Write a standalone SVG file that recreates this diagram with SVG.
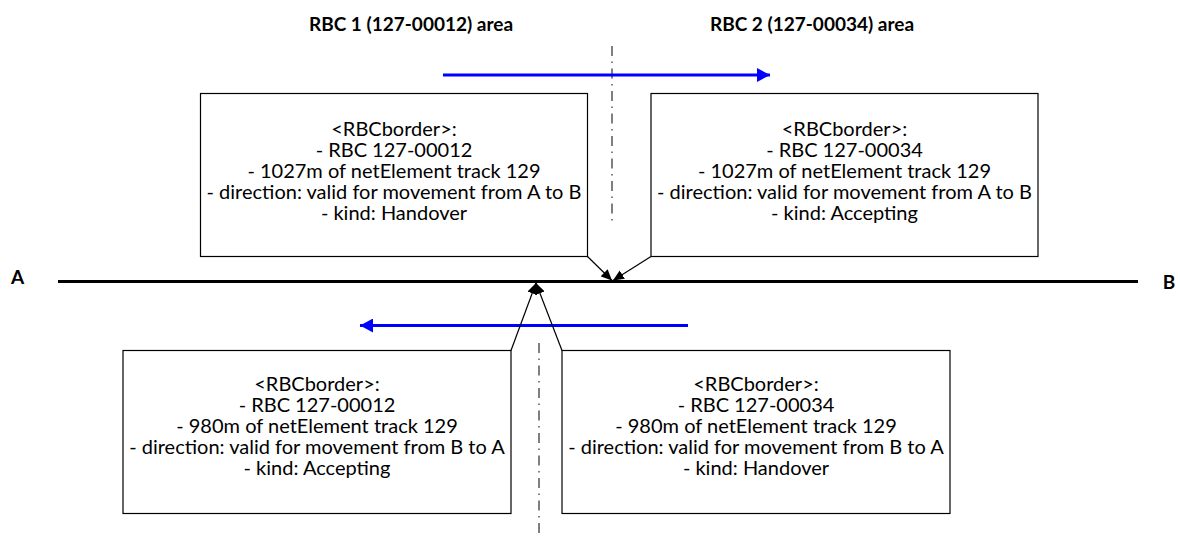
<svg xmlns="http://www.w3.org/2000/svg" width="1180" height="538" viewBox="0 0 1180 538">
<style>
.bg{fill:#fff}
.box{fill:#fff;stroke:#000;stroke-width:1.2}
.txt{font-family:Lato,"Liberation Sans",sans-serif;font-size:20px;fill:#000;text-anchor:middle}
.title{font-family:Lato,"Liberation Sans",sans-serif;font-size:19px;font-weight:bold;fill:#000;text-anchor:middle}
.track{stroke:#000;stroke-width:3.2;fill:none}
.sep{stroke:#555;stroke-width:1.5;fill:none;stroke-dasharray:10 5.5 1.5 5.5}
.con{stroke:#000;stroke-width:1.2;fill:none}
.blue{stroke:#0000ff;stroke-width:3;fill:none}
</style>
<defs>
<marker id="ah" markerUnits="userSpaceOnUse" markerWidth="12" markerHeight="10" refX="11" refY="5" orient="auto">
<path d="M0,0 L11,5 L0,10 z" fill="#000"/>
</marker>
<marker id="bh" markerUnits="userSpaceOnUse" markerWidth="14" markerHeight="14" refX="13" refY="7" orient="auto">
<path d="M0,0 L13,7 L0,14 z" fill="#0000ff"/>
</marker>
</defs>
<rect class="bg" x="0" y="0" width="1180" height="538"/>
<g id="labels">
<text class="title" x="411" y="31">RBC 1 (127-00012) area</text>
<text class="title" x="812" y="31">RBC 2 (127-00034) area</text>
<text class="title" x="17.5" y="284">A</text>
<text class="title" x="1169" y="289">B</text>
</g>
<g id="separators">
<line class="sep" x1="612" y1="46" x2="612" y2="222"/>
<line class="sep" x1="539" y1="343" x2="539" y2="538"/>
</g>
<g id="track">
<line class="track" x1="58" y1="281.5" x2="1138" y2="281.5"/>
</g>
<g id="directions">
<line class="blue" x1="443" y1="75" x2="770" y2="75" marker-end="url(#bh)"/>
<line class="blue" x1="688" y1="325.5" x2="360" y2="325.5" marker-end="url(#bh)"/>
</g>
<g id="node1">
<rect class="box" x="200.5" y="93.5" width="387" height="163"/>
<text class="txt" x="394" y="136">&lt;RBCborder&gt;:</text>
<text class="txt" x="394" y="157">- RBC 127-00012</text>
<text class="txt" x="394" y="178">- 1027m of netElement track 129</text>
<text class="txt" x="394" y="199">- direction: valid for movement from A to B</text>
<text class="txt" x="394" y="220">- kind: Handover</text>
</g>
<g id="node2">
<rect class="box" x="651" y="93.5" width="387" height="163"/>
<text class="txt" x="844.5" y="136">&lt;RBCborder&gt;:</text>
<text class="txt" x="844.5" y="157">- RBC 127-00034</text>
<text class="txt" x="844.5" y="178">- 1027m of netElement track 129</text>
<text class="txt" x="844.5" y="199">- direction: valid for movement from A to B</text>
<text class="txt" x="844.5" y="220">- kind: Accepting</text>
</g>
<g id="node3">
<rect class="box" x="123" y="350.5" width="388" height="163"/>
<text class="txt" x="317" y="391">&lt;RBCborder&gt;:</text>
<text class="txt" x="317" y="412">- RBC 127-00012</text>
<text class="txt" x="317" y="433">- 980m of netElement track 129</text>
<text class="txt" x="317" y="454">- direction: valid for movement from B to A</text>
<text class="txt" x="317" y="475">- kind: Accepting</text>
</g>
<g id="node4">
<rect class="box" x="562" y="350.5" width="388" height="163"/>
<text class="txt" x="756" y="391">&lt;RBCborder&gt;:</text>
<text class="txt" x="756" y="412">- RBC 127-00034</text>
<text class="txt" x="756" y="433">- 980m of netElement track 129</text>
<text class="txt" x="756" y="454">- direction: valid for movement from B to A</text>
<text class="txt" x="756" y="475">- kind: Handover</text>
</g>
<g id="connectors">
<line class="con" x1="587.5" y1="256.5" x2="612" y2="280.5" marker-end="url(#ah)"/>
<line class="con" x1="651" y1="256.5" x2="613" y2="280.5" marker-end="url(#ah)"/>
<line class="con" x1="511" y1="350.5" x2="536" y2="283" marker-end="url(#ah)"/>
<line class="con" x1="562" y1="350.5" x2="536" y2="283" marker-end="url(#ah)"/>
</g>
</svg>
